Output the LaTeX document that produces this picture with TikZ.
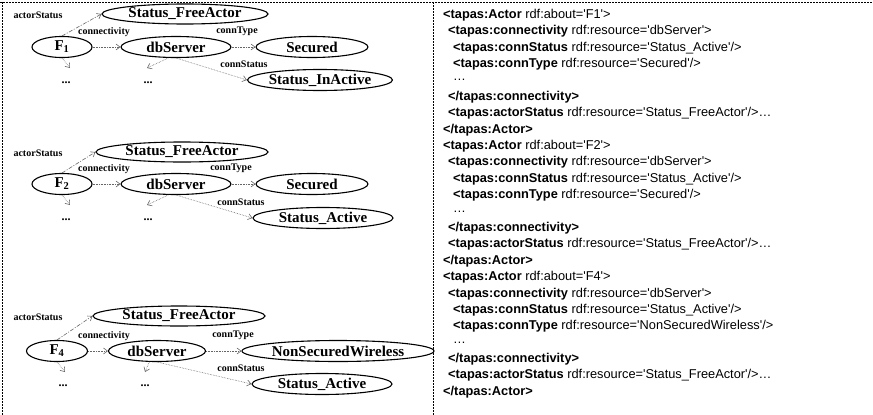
\documentclass[tikz,border=0pt]{standalone}
\usepackage{fontspec}
\setmainfont{Liberation Serif}
\newfontfamily\xmlfont{Liberation Sans}
\usetikzlibrary{shapes.geometric,arrows.meta}
\newcommand{\tg}[1]{\textbf{#1}}
\newcommand{\qq}{\textquotesingle}
\begin{document}
\begin{tikzpicture}[x=1pt,y=-1pt,
 ell/.style={draw, line width=1.1pt, ellipse, inner sep=0pt, font=\fontsize{15}{15}\selectfont\bfseries},
 lbl/.style={font=\fontsize{10}{10}\selectfont\bfseries, inner sep=0pt},
 conn/.style={draw=black!60, line width=0.6pt, densely dotted, -{Straight Barb[length=4pt,width=6pt]}},
 conna/.style={conn, dash pattern=on 4pt off 1.5pt on 1pt off 1.5pt},
 xl/.style={anchor=west, inner sep=0pt, font=\xmlfont\fontsize{12.8}{14}\selectfont},
 dotsn/.style={font=\fontsize{12}{12}\selectfont\bfseries, inner sep=0pt},
 border/.style={line width=0.7pt, dash pattern=on 2pt off 1pt}
]
\useasboundingbox (0,0) rectangle (873,415);
% borders
\coordinate (tl) at (0,2);
\coordinate (tr) at (873,2);
\coordinate (lt) at (2,2);
\coordinate (lb) at (2,415);
\coordinate (dt) at (433,2);
\coordinate (db) at (433,415);
\draw[border] (tl) -- (tr);
\draw[border] (lt) -- (lb);
\draw[border] (dt) -- (db);

% ---------- panel 1 ----------
\node[lbl] (as1) at (38,15) {actorStatus};
\node[ell, minimum width=166, minimum height=20] (fa1) at (185,14) {Status\_FreeActor};
\node[ell, minimum width=60, minimum height=21] (f1) at (62,47) {F\textsubscript{1}};
\node[ell, minimum width=110, minimum height=21] (db1) at (176,47) {dbServer};
\node[ell, minimum width=112, minimum height=21] (se1) at (312,47) {Secured};
\node[ell, minimum width=136, minimum height=21] (st1) at (320,80) {Status\_InActive};
\node[lbl] (cv1) at (104,32) {connectivity};
\node[lbl] (ct1) at (237,31) {connType};
\node[lbl] (cs1) at (244,64) {connStatus};
\node[dotsn] (d1a) at (66,83) {...};
\node[dotsn] (d1b) at (148,83) {...};
\coordinate (e1a) at (70,68);
\coordinate (e1b) at (147,68);
\draw[conna] (f1.north) -- (fa1.west);
\draw[conn] (f1.east) -- (db1.west);
\draw[conn] (db1.east) -- (se1.west);
\draw[conn] (db1.south) -- (st1.west);
\draw[conn] (f1.south) -- (e1a);
\draw[conn] (db1.235) -- (e1b);

% ---------- panel 2 ----------
\node[lbl] (as2) at (38,153) {actorStatus};
\node[ell, minimum width=172, minimum height=20] (fa2) at (182,152) {Status\_FreeActor};
\node[ell, minimum width=60, minimum height=21] (f2) at (62,184) {F\textsubscript{2}};
\node[ell, minimum width=110, minimum height=21] (db2) at (176,184) {dbServer};
\node[ell, minimum width=112, minimum height=21] (se2) at (312,184) {Secured};
\node[ell, minimum width=140, minimum height=21] (st2) at (323,218) {Status\_Active};
\node[lbl] (cv2) at (104,169) {connectivity};
\node[lbl] (ct2) at (231,168) {connType};
\node[lbl] (cs2) at (241,202) {connStatus};
\node[dotsn] (d2a) at (66,220) {...};
\node[dotsn] (d2b) at (148,220) {...};
\coordinate (e2a) at (70,205);
\coordinate (e2b) at (147,205);
\draw[conna] (f2.north) -- (fa2.west);
\draw[conn] (f2.east) -- (db2.west);
\draw[conn] (db2.east) -- (se2.west);
\draw[conn] (db2.south) -- (st2.west);
\draw[conn] (f2.south) -- (e2a);
\draw[conn] (db2.235) -- (e2b);

% ---------- panel 3 ----------
\node[lbl] (as3) at (38,317) {actorStatus};
\node[ell, minimum width=172, minimum height=20] (fa3) at (179,316) {Status\_FreeActor};
\node[ell, minimum width=61, minimum height=21] (f4) at (57,351) {F\textsubscript{4}};
\node[ell, minimum width=97, minimum height=21] (db3) at (157,351) {dbServer};
\node[ell, minimum width=192, minimum height=21] (se3) at (338,351) {NonSecuredWireless};
\node[ell, minimum width=140, minimum height=21] (st3) at (322,384) {Status\_Active};
\node[lbl] (cv3) at (104,336) {connectivity};
\node[lbl] (ct3) at (233,335) {connType};
\node[lbl] (cs3) at (241,368) {connStatus};
\node[dotsn] (d3a) at (63,386) {...};
\node[dotsn] (d3b) at (145,386) {...};
\coordinate (e3a) at (65,372);
\coordinate (e3b) at (145,372);
\draw[conna] (f4.north) -- (fa3.west);
\draw[conn] (f4.east) -- (db3.west);
\draw[conn] (db3.east) -- (se3.west);
\draw[conn] (db3.south) -- (st3.west);
\draw[conn] (f4.south) -- (e3a);
\draw[conn] (db3.235) -- (e3b);

% ---------- RDF text ----------
\node[xl] (l1)  at (443,15)  {\tg{<tapas:Actor} rdf:about=\qq F1\qq>};
\node[xl] (l2)  at (448,31)  {\tg{<tapas:connectivity} rdf:resource=\qq dbServer\qq>};
\node[xl] (l3)  at (453,48)  {\tg{<tapas:connStatus} rdf:resource=\qq Status\_Active\qq/>};
\node[xl] (l4)  at (453,64)  {\tg{<tapas:connType} rdf:resource=\qq Secured\qq/>};
\node[xl] (l5)  at (453,80)  {\dots};
\node[xl] (l6)  at (448,97)  {\tg{</tapas:connectivity>}};
\node[xl] (l7)  at (448,113) {\tg{<tapas:actorStatus} rdf:resource=\qq Status\_FreeActor\qq/>\dots};
\node[xl] (l8)  at (443,130) {\tg{</tapas:Actor>}};
\node[xl] (l9)  at (443,146) {\tg{<tapas:Actor} rdf:about=\qq F2\qq>};
\node[xl] (l10) at (448,162) {\tg{<tapas:connectivity} rdf:resource=\qq dbServer\qq>};
\node[xl] (l11) at (453,179) {\tg{<tapas:connStatus} rdf:resource=\qq Status\_Active\qq/>};
\node[xl] (l12) at (453,195) {\tg{<tapas:connType} rdf:resource=\qq Secured\qq/>};
\node[xl] (l13) at (453,212) {\dots};
\node[xl] (l14) at (448,228) {\tg{</tapas:connectivity>}};
\node[xl] (l15) at (448,244) {\tg{<tapas:actorStatus} rdf:resource=\qq Status\_FreeActor\qq/>\dots};
\node[xl] (l16) at (443,261) {\tg{</tapas:Actor>}};
\node[xl] (l17) at (443,277) {\tg{<tapas:Actor} rdf:about=\qq F4\qq>};
\node[xl] (l18) at (448,294) {\tg{<tapas:connectivity} rdf:resource=\qq dbServer\qq>};
\node[xl] (l19) at (453,310) {\tg{<tapas:connStatus} rdf:resource=\qq Status\_Active\qq/>};
\node[xl] (l20) at (453,326) {\tg{<tapas:connType} rdf:resource=\qq NonSecuredWireless\qq/>};
\node[xl] (l21) at (453,343) {\dots};
\node[xl] (l22) at (448,359) {\tg{</tapas:connectivity>}};
\node[xl] (l23) at (448,375) {\tg{<tapas:actorStatus} rdf:resource=\qq Status\_FreeActor\qq/>\dots};
\node[xl] (l24) at (443,392) {\tg{</tapas:Actor>}};
\end{tikzpicture}
\end{document}
